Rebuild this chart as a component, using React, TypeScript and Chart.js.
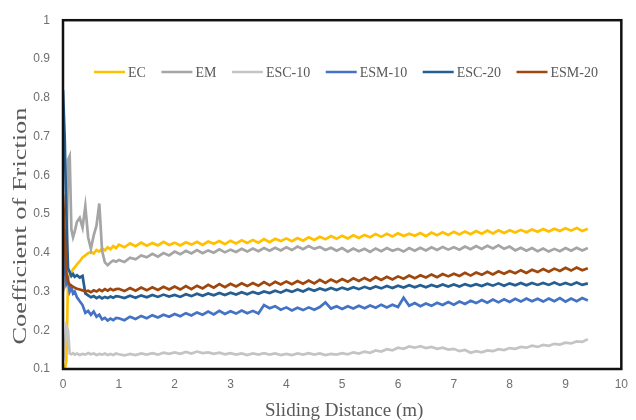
import React, { useEffect, useRef } from "react";
import { Chart, registerables } from "chart.js";

Chart.register(...registerables);

// Sliding distance (m)
const distance = [
  0, 0.03, 0.06, 0.09, 0.12, 0.15, 0.18, 0.21, 0.25, 0.3, 0.35, 0.4, 0.45, 0.5, 0.55, 0.6, 0.65, 0.7, 0.75, 0.8, 0.85, 0.9, 0.95,
  1.0, 1.1, 1.2, 1.3, 1.4, 1.5, 1.6, 1.7, 1.8, 1.9,
  2.0, 2.1, 2.2, 2.3, 2.4, 2.5, 2.6, 2.7, 2.8, 2.9,
  3.0, 3.1, 3.2, 3.3, 3.4, 3.5, 3.6, 3.7, 3.8, 3.9,
  4.0, 4.1, 4.2, 4.3, 4.4, 4.5, 4.6, 4.7, 4.8, 4.9,
  5.0, 5.1, 5.2, 5.3, 5.4, 5.5, 5.6, 5.7, 5.8, 5.9,
  6.0, 6.1, 6.2, 6.3, 6.4, 6.5, 6.6, 6.7, 6.8, 6.9,
  7.0, 7.1, 7.2, 7.3, 7.4, 7.5, 7.6, 7.7, 7.8, 7.9,
  8.0, 8.1, 8.2, 8.3, 8.4, 8.5, 8.6, 8.7, 8.8, 8.9,
  9.0, 9.1, 9.2, 9.3, 9.4,
];

const ecCof = [
  0.1, 0.1, 0.12, 0.33, 0.345, 0.35, 0.357, 0.362, 0.37, 0.378, 0.388, 0.393, 0.399, 0.402, 0.398, 0.407, 0.403, 0.411, 0.406, 0.414, 0.409, 0.417, 0.412,
  0.421, 0.414, 0.424, 0.417, 0.426, 0.418, 0.425, 0.419, 0.428, 0.42,
  0.426, 0.419, 0.427, 0.421, 0.428, 0.42, 0.429, 0.423, 0.43, 0.422,
  0.431, 0.424, 0.432, 0.425, 0.433, 0.426, 0.435, 0.427, 0.436, 0.43,
  0.437, 0.43, 0.438, 0.431, 0.44, 0.433, 0.441, 0.435, 0.443, 0.436,
  0.444, 0.437, 0.445, 0.438, 0.446, 0.44, 0.448, 0.441, 0.449, 0.442,
  0.45, 0.443, 0.449, 0.444, 0.451, 0.443, 0.452, 0.445, 0.453, 0.446,
  0.454, 0.447, 0.455, 0.448, 0.456, 0.449, 0.457, 0.45, 0.458, 0.451,
  0.458, 0.452, 0.459, 0.453, 0.46, 0.454, 0.461, 0.455, 0.462, 0.456,
  0.463, 0.457, 0.464, 0.456, 0.462,
];

const emCof = [
  0.3, 0.32, 0.35, 0.64, 0.65, 0.46, 0.44, 0.455, 0.48, 0.49, 0.465, 0.52, 0.44, 0.41, 0.445, 0.47, 0.527, 0.405, 0.375, 0.368, 0.375, 0.38, 0.377,
  0.381, 0.376, 0.387, 0.383, 0.393, 0.388, 0.397, 0.39, 0.399, 0.393,
  0.403, 0.396, 0.405, 0.398, 0.407, 0.399, 0.406, 0.4, 0.409, 0.401,
  0.408, 0.402, 0.41, 0.403, 0.411, 0.404, 0.412, 0.405, 0.413, 0.406,
  0.414, 0.407, 0.416, 0.409, 0.417, 0.41, 0.415, 0.407, 0.413, 0.405,
  0.412, 0.403, 0.411, 0.404, 0.41, 0.402, 0.411, 0.404, 0.412, 0.405,
  0.41, 0.403, 0.412, 0.405, 0.413, 0.406, 0.414, 0.407, 0.415, 0.408,
  0.414, 0.408, 0.416, 0.409, 0.417, 0.41, 0.418, 0.411, 0.419, 0.41,
  0.416, 0.406, 0.413, 0.405, 0.412, 0.404, 0.411, 0.403, 0.41, 0.404,
  0.412, 0.405, 0.413, 0.406, 0.412,
];

const esc10Cof = [
  0.12, 0.15, 0.21, 0.2, 0.14, 0.138, 0.141, 0.137, 0.14, 0.136, 0.139, 0.137, 0.141, 0.138, 0.14, 0.136, 0.139, 0.137, 0.14, 0.136, 0.139, 0.136, 0.14,
  0.138, 0.135, 0.139, 0.136, 0.14, 0.137, 0.141, 0.137, 0.142, 0.139,
  0.143, 0.139, 0.144, 0.14, 0.145, 0.141, 0.143, 0.139, 0.142, 0.138,
  0.141, 0.137, 0.14, 0.136, 0.14, 0.137, 0.141, 0.137, 0.14, 0.136,
  0.139, 0.136, 0.14, 0.137, 0.141, 0.137, 0.14, 0.136, 0.139, 0.137,
  0.141, 0.138, 0.143, 0.14, 0.145, 0.142, 0.148, 0.145, 0.151, 0.148,
  0.155, 0.152, 0.158, 0.155, 0.159, 0.154, 0.157, 0.152, 0.155, 0.15,
  0.152, 0.146, 0.149, 0.142, 0.146, 0.143, 0.148, 0.146, 0.151, 0.149,
  0.154, 0.152, 0.157, 0.155, 0.16, 0.157, 0.162, 0.16, 0.165, 0.163,
  0.168, 0.166, 0.171, 0.17, 0.177,
];

const esm10Cof = [
  0.45, 0.36, 0.32, 0.33, 0.3, 0.31, 0.295, 0.3, 0.285, 0.275, 0.265, 0.245, 0.25, 0.24, 0.248, 0.235, 0.24, 0.228, 0.232, 0.225, 0.23, 0.226, 0.232,
  0.231, 0.226, 0.235, 0.229, 0.237, 0.231, 0.239, 0.233, 0.24, 0.235,
  0.242, 0.236, 0.244, 0.238, 0.246, 0.24, 0.248, 0.241, 0.25, 0.242,
  0.249, 0.243, 0.251, 0.244, 0.25, 0.243, 0.265, 0.257, 0.262, 0.253,
  0.259, 0.251, 0.258, 0.252, 0.259, 0.253, 0.26, 0.272, 0.256, 0.262,
  0.255, 0.262, 0.256, 0.263, 0.257, 0.264, 0.258, 0.266, 0.259, 0.266,
  0.26, 0.284, 0.263, 0.27, 0.262, 0.269, 0.263, 0.271, 0.265, 0.273,
  0.266, 0.274, 0.268, 0.276, 0.27, 0.278, 0.271, 0.279, 0.272, 0.28,
  0.273, 0.281, 0.274, 0.282, 0.275, 0.281, 0.274, 0.282, 0.275, 0.283,
  0.274, 0.282, 0.275, 0.283, 0.277,
];

const esc20Cof = [
  0.82, 0.7, 0.5, 0.36, 0.35, 0.34, 0.345, 0.338, 0.342, 0.336, 0.34, 0.295, 0.29, 0.285, 0.288, 0.283, 0.287, 0.282, 0.286, 0.283, 0.287, 0.284, 0.288,
  0.287, 0.283, 0.289, 0.284, 0.29, 0.285, 0.291, 0.286, 0.292, 0.287,
  0.291, 0.286, 0.293, 0.288, 0.294, 0.289, 0.295, 0.29, 0.296, 0.291,
  0.297, 0.292, 0.298, 0.293, 0.299, 0.294, 0.3, 0.296, 0.302, 0.297,
  0.304, 0.299, 0.305, 0.3, 0.307, 0.302, 0.308, 0.303, 0.309, 0.304,
  0.31, 0.305, 0.311, 0.306, 0.312, 0.307, 0.313, 0.308, 0.314, 0.309,
  0.315, 0.31, 0.316, 0.311, 0.316, 0.311, 0.317, 0.312, 0.318, 0.313,
  0.318, 0.313, 0.319, 0.314, 0.319, 0.314, 0.32, 0.315, 0.321, 0.315,
  0.321, 0.316, 0.322, 0.316, 0.322, 0.317, 0.322, 0.317, 0.323, 0.317,
  0.322, 0.317, 0.323, 0.317, 0.321,
];

const esm20Cof = [
  0.55, 0.45, 0.35, 0.325, 0.318, 0.315, 0.312, 0.31, 0.307, 0.305, 0.303, 0.3, 0.302, 0.298, 0.303, 0.3, 0.305, 0.301, 0.306, 0.302, 0.307, 0.303, 0.306,
  0.307, 0.301, 0.309, 0.302, 0.31, 0.303, 0.311, 0.304, 0.312, 0.305,
  0.313, 0.305, 0.314, 0.306, 0.315, 0.308, 0.317, 0.31, 0.319, 0.311,
  0.32, 0.313, 0.321, 0.314, 0.322, 0.315, 0.324, 0.316, 0.325, 0.318,
  0.326, 0.319, 0.327, 0.32, 0.328, 0.321, 0.33, 0.322, 0.331, 0.324,
  0.332, 0.325, 0.334, 0.327, 0.335, 0.328, 0.337, 0.33, 0.338, 0.331,
  0.339, 0.333, 0.341, 0.334, 0.342, 0.336, 0.344, 0.337, 0.345, 0.339,
  0.346, 0.34, 0.348, 0.341, 0.349, 0.343, 0.351, 0.344, 0.352, 0.346,
  0.353, 0.347, 0.355, 0.348, 0.356, 0.35, 0.358, 0.351, 0.359, 0.353,
  0.361, 0.354, 0.362, 0.355, 0.36,
];

const seriesNames = ["EC", "EM", "ESC-10", "ESM-10", "ESC-20", "ESM-20"];
const seriesValues = [ecCof, emCof, esc10Cof, esm10Cof, esc20Cof, esm20Cof];
const seriesColors = ["#FFC000", "#A5A5A5", "#C4C4C4", "#4472C4", "#255E91", "#9E480E"];

const xTitle = "Sliding Distance (m)";
const yTitle = "Coefficient of Friction";

const decorPlugin = {
  id: "decor",
  afterDraw(chart: any) {
    const { ctx, chartArea } = chart;
    const { left, right, top, bottom } = chartArea;
    ctx.save();
    // frame
    ctx.strokeStyle = "#111";
    ctx.lineWidth = 2.5;
    ctx.strokeRect(left, top, right - left, bottom - top);

    // legend
    ctx.font = "14px 'Liberation Serif'";
    ctx.textBaseline = "middle";
    ctx.textAlign = "left";
    let x = 94;
    const y = 72;
    chart.data.datasets.forEach((ds: any) => {
      ctx.strokeStyle = ds.borderColor;
      ctx.lineWidth = 2.5;
      ctx.beginPath();
      ctx.moveTo(x, y);
      ctx.lineTo(x + 31, y);
      ctx.stroke();
      ctx.fillStyle = "#595959";
      ctx.fillText(ds.label, x + 34, y + 1);
      x += 34 + ctx.measureText(ds.label).width + 15.5;
    });

    // x title
    ctx.font = "19px 'Liberation Serif'";
    ctx.fillStyle = "#595959";
    ctx.textAlign = "center";
    ctx.textBaseline = "alphabetic";
    ctx.fillText(xTitle, (left + right) / 2 + 2, 416);

    // y title (stretched along its length as in the reference)
    const w = ctx.measureText(yTitle).width;
    const sx = 237 / w;
    ctx.translate(25.5, 226);
    ctx.rotate(-Math.PI / 2);
    ctx.scale(sx, 1);
    ctx.fillText(yTitle, 0, 0);
    ctx.restore();
  },
};

export default function App() {
  const ref = useRef<HTMLCanvasElement>(null);
  useEffect(() => {
    document.body.style.margin = "0";
    const n = seriesValues.length;
    const chart = new Chart(ref.current as HTMLCanvasElement, {
      type: "line",
      data: {
        datasets: seriesValues.map((vals, i) => ({
          label: seriesNames[i],
          data: distance.map((d, j) => ({ x: d, y: vals[j] })),
          borderColor: seriesColors[i],
          backgroundColor: seriesColors[i],
          borderWidth: 2.7,
          pointRadius: 0,
          tension: 0,
          order: n - i,
        })),
      },
      options: {
        responsive: false,
        animation: false,
        devicePixelRatio: 1,
        layout: { padding: { top: 17, right: 7, left: 0, bottom: 0 } },
        plugins: { legend: { display: false }, tooltip: { enabled: false } },
        scales: {
          x: {
            type: "linear",
            min: 0,
            max: 10,
            grid: { display: false, drawTicks: false },
            border: { display: false },
            ticks: {
              stepSize: 1,
              padding: 8,
              color: "#6f6f6f",
              font: { family: "'Liberation Sans'", size: 12 },
            },
            afterFit: (s: any) => {
              s.height = 51;
            },
          },
          y: {
            type: "linear",
            min: 0.1,
            max: 1,
            grid: { display: false, drawTicks: false },
            border: { display: false },
            ticks: {
              stepSize: 0.1,
              padding: 13,
              color: "#6f6f6f",
              font: { family: "'Liberation Sans'", size: 12 },
              callback: (v: any) => String(Math.round(Number(v) * 10) / 10),
            },
            afterFit: (s: any) => {
              s.width = 63;
            },
          },
        },
      },
      plugins: [decorPlugin],
    });
    return () => chart.destroy();
  }, []);
  return <canvas ref={ref} width={636} height={420} style={{ display: "block" }} />;
}
